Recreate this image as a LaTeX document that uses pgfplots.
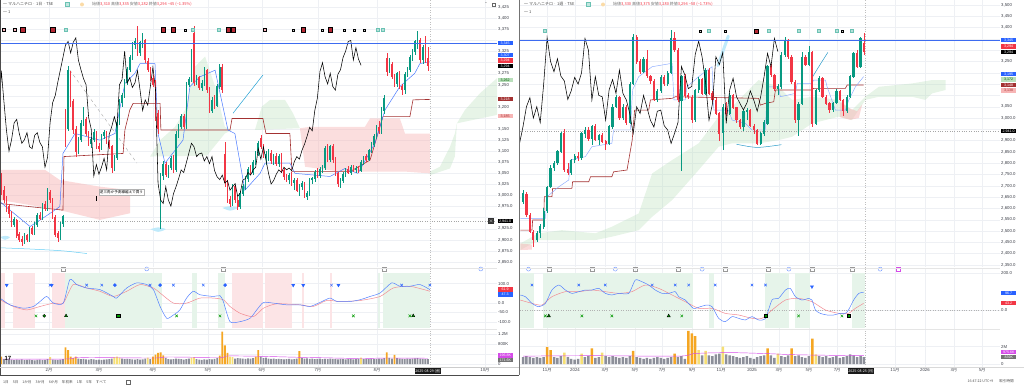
\documentclass[border=0pt]{standalone}
\usepackage{fontspec}
\setmainfont{Liberation Sans}
\newfontfamily\jp{Noto Sans CJK JP}
\newfontfamily\dv{DejaVu Sans}
\usepackage{pgfplots}
\pgfplotsset{compat=1.18}
\usepackage{pgfplotstable}
\definecolor{cg}{HTML}{089981}
\definecolor{cr}{HTML}{F23645}
\definecolor{tvblue}{HTML}{2962FF}
\definecolor{hline}{HTML}{3D6BF0}
\definecolor{kij}{HTML}{A33131}
\definecolor{cloudg}{HTML}{B9DFBB}
\definecolor{cloudr}{HTML}{F7B5B5}
\definecolor{volg}{HTML}{8C8F99}
\definecolor{volo}{HTML}{F5A623}
\definecolor{voly}{HTML}{F6DF74}
\definecolor{bandg}{HTML}{E6F4EA}
\definecolor{bandr}{HTML}{FCE4E6}
\definecolor{oscr}{HTML}{F28B93}
\definecolor{mag}{HTML}{D54BE8}
\definecolor{gridc}{HTML}{EEF0F4}
\definecolor{labc}{HTML}{3A3D46}
\newcommand\tk{\fontsize{4.3}{5}\selectfont}
\newcommand\tg{\fontsize{3.6}{4}\selectfont}
\newcommand\hd{\fontsize{4.0}{5}\selectfont}
\newcommand\ptag[5]{\node[fill=#3, text=#4, font=\tg, inner sep=0.4pt, minimum width=15pt, minimum height=4.6pt, anchor=west] at (#1pt,-#2pt) {#5};}
\pgfplotsset{
 tv/.style={scale only axis, anchor=north west, axis line style={draw=none}, major tick length=0pt,
   tick label style={font=\tk, text=labc}, yticklabel pos=right,
   xmajorgrids, ymajorgrids, major grid style={draw=gridc, line width=0.35pt},
   yticklabel style={anchor=west, inner sep=1pt}, xticklabel style={inner sep=1.2pt},
   /pgf/number format/assume math mode=true},
 upb/.style={forget plot, draw=none, mark=none, error bars/.cd, y dir=both, y explicit, error mark=none},
}
\newcommand\candles[3]{%
 \addplot[upb, error bar style={draw=cg, line width=0.45pt}] table[x=i, y expr={\thisrow{c}>=\thisrow{o} ? (\thisrow{h}+\thisrow{l})/2 : nan}, y error expr={(\thisrow{h}-\thisrow{l})/2}] {#1};
 \addplot[upb, error bar style={draw=cr, line width=0.45pt}] table[x=i, y expr={\thisrow{c}<\thisrow{o} ? (\thisrow{h}+\thisrow{l})/2 : nan}, y error expr={(\thisrow{h}-\thisrow{l})/2}] {#1};
 \addplot[upb, error bar style={draw=cg, line width=#2}] table[x=i, y expr={\thisrow{c}>=\thisrow{o} ? (\thisrow{o}+\thisrow{c})/2 : nan}, y error expr={abs(\thisrow{c}-\thisrow{o})/2+0.8}] {#1};
 \addplot[upb, error bar style={draw=cr, line width=#2}] table[x=i, y expr={\thisrow{c}<\thisrow{o} ? (\thisrow{o}+\thisrow{c})/2 : nan}, y error expr={abs(\thisrow{c}-\thisrow{o})/2+0.8}] {#1};
 \addplot[black, line width=0.55pt] table[x expr=\thisrow{i}-#3, y=c] {#1};
}
\newcommand\vols[2]{%
 \addplot[ybar, bar width=#2, bar shift=0pt, fill=volg, draw=none] table[x=i, y expr={\thisrow{t}==0 ? \thisrow{v} : nan}] {#1};
 \addplot[ybar, bar width=#2, bar shift=0pt, fill=volo, draw=none] table[x=i, y expr={\thisrow{t}==1 ? \thisrow{v} : nan}] {#1};
 \addplot[ybar, bar width=#2, bar shift=0pt, fill=voly, draw=none] table[x=i, y expr={\thisrow{t}==2 ? \thisrow{v} : nan}] {#1};
}
\pgfplotstableread{
i o h l c v t
0 3040 3050 3002 3010 0.30 1
1 3012 3022 2982 2990 0.20 0
2 2992 3000 2962 2972 0.18 0
3 2975 2980 2950 2958 0.17 0
4 2960 2966 2930 2936 0.18 0
5 2934 2952 2928 2946 0.16 0
6 2944 2948 2905 2910 0.18 0
7 2912 2918 2894 2900 0.17 0
8 2902 2908 2886 2895 0.19 0
9 2896 2915 2890 2910 0.16 0
10 2910 2914 2895 2900 0.17 0
11 2900 2930 2896 2926 0.18 0
12 2926 2932 2910 2915 0.16 0
13 2914 2940 2910 2936 0.15 0
14 2934 2960 2930 2956 0.17 0
15 2956 2962 2944 2948 0.18 0
16 2948 2984 2944 2980 0.16 0
17 2980 2988 2964 2970 0.17 0
18 2970 3016 2966 3012 0.20 0
19 3008 3012 2984 2990 0.28 2
20 2990 2994 2946 2950 0.18 0
21 2950 2956 2906 2912 0.17 0
22 2914 2920 2894 2904 0.16 0
23 2904 2940 2900 2936 0.18 0
24 2936 2956 2930 2952 0.20 0
25 3170 3195 3110 3150 0.67 1
26 3150 3292 3146 3282 0.56 1
27 3275 3282 3200 3214 0.30 1
28 3212 3218 3140 3148 0.25 1
29 3150 3158 3088 3100 0.30 1
30 3100 3132 3094 3126 0.22 0
31 3126 3170 3120 3164 0.20 0
32 3164 3200 3156 3172 0.21 0
33 3172 3178 3134 3140 0.19 0
34 3140 3146 3112 3118 0.18 0
35 3118 3132 3108 3126 0.20 0
36 3126 3150 3120 3142 0.19 0
37 3140 3146 3104 3110 0.17 0
38 3110 3118 3098 3106 0.18 0
39 3106 3140 3102 3136 0.17 0
40 3136 3148 3128 3142 0.18 0
41 3142 3146 3116 3120 0.19 0
42 3120 3126 3104 3110 0.20 0
43 3110 3114 3050 3064 0.22 0
44 3064 3092 3056 3086 0.28 2
45 3086 3172 3080 3165 0.30 2
46 3165 3218 3160 3210 0.26 2
47 3210 3232 3200 3226 0.22 0
48 3226 3262 3220 3256 0.20 0
49 3256 3290 3250 3284 0.21 0
50 3284 3318 3278 3312 0.20 0
51 3312 3346 3306 3340 0.19 0
52 3340 3356 3330 3348 0.18 0
53 3360 3382 3316 3322 0.20 0
54 3322 3350 3316 3346 0.18 0
55 3340 3366 3334 3356 0.19 0
56 3350 3354 3300 3306 0.22 0
57 3304 3310 3278 3284 0.26 2
58 3284 3290 3258 3264 0.20 0
59 3264 3272 3244 3250 0.30 1
60 3254 3260 3168 3176 0.38 1
61 3186 3192 3140 3150 0.45 1
62 2952 3050 2925 3044 0.47 1
63 3044 3078 3036 3070 0.35 1
64 3070 3076 3042 3048 0.24 0
65 3048 3070 3040 3064 0.20 0
66 3064 3090 3058 3084 0.19 0
67 3084 3092 3050 3058 0.20 0
68 3058 3145 3052 3138 0.22 0
69 3138 3162 3130 3156 0.21 0
70 3156 3184 3150 3178 0.20 0
71 3178 3184 3150 3156 0.18 0
72 3156 3256 3150 3250 0.20 0
73 3250 3268 3244 3262 0.22 0
74 3262 3330 3256 3326 0.26 2
75 3366 3382 3248 3254 0.28 2
76 3258 3272 3250 3266 0.20 0
77 3266 3270 3238 3244 0.18 0
78 3244 3260 3236 3254 0.17 0
79 3254 3290 3248 3282 0.19 0
80 3282 3286 3232 3238 0.18 0
81 3238 3244 3186 3192 0.20 0
82 3192 3222 3186 3216 0.19 0
83 3216 3226 3196 3204 0.21 0
84 3204 3252 3200 3246 0.24 0
85 3246 3298 3240 3290 0.34 1
86 3290 3296 3232 3240 1.30 1
87 3092 3120 3020 3028 0.75 1
88 3030 3036 2984 2990 0.45 1
89 2992 3000 2974 2982 0.30 2
90 2982 3026 2976 3020 0.28 2
91 3020 3024 2984 2990 0.22 0
92 2990 2996 2968 2976 0.24 0
93 2976 3010 2970 3004 0.23 0
94 3004 3026 2998 3020 0.22 0
95 3020 3044 3012 3038 0.21 0
96 3038 3064 3030 3058 0.23 0
97 3058 3068 3046 3052 0.22 0
98 3052 3080 3046 3074 0.24 0
99 3074 3100 3068 3096 0.30 1
100 3096 3124 3090 3118 0.56 1
101 3130 3136 3104 3110 0.30 0
102 3110 3116 3084 3088 0.24 0
103 3088 3100 3070 3094 0.26 0
104 3094 3104 3078 3096 0.22 0
105 3096 3102 3072 3078 0.21 0
106 3078 3094 3070 3088 0.22 0
107 3088 3096 3066 3072 0.20 0
108 3072 3094 3064 3088 0.21 0
109 3088 3096 3050 3056 0.20 0
110 3056 3062 3036 3042 0.19 0
111 3042 3048 3030 3036 0.20 0
112 3036 3050 3026 3046 0.21 0
113 3046 3052 3022 3028 0.19 0
114 3028 3040 3012 3034 0.20 0
115 3034 3040 3008 3012 0.22 0
116 3012 3026 3000 3020 0.52 1
117 3020 3032 3012 3027 0.24 0
118 3027 3030 2994 2998 0.22 0
119 2998 3010 2990 3006 0.23 0
120 3006 3040 3000 3035 0.21 0
121 3035 3042 3026 3038 0.22 0
122 3038 3058 3030 3052 0.20 0
123 3052 3062 3040 3046 0.21 0
124 3046 3064 3040 3058 0.22 0
125 3058 3070 3050 3064 0.20 0
126 3064 3112 3058 3106 0.21 0
127 3106 3116 3076 3082 0.20 0
128 3082 3114 3076 3110 0.22 0
129 3110 3116 3074 3080 0.21 0
130 3080 3086 3044 3050 0.20 0
131 3050 3054 3020 3026 0.19 0
132 3026 3040 3018 3034 0.21 0
133 3034 3052 3028 3048 0.20 0
134 3048 3062 3042 3058 0.19 0
135 3058 3066 3048 3052 0.20 0
136 3052 3068 3046 3064 0.21 0
137 3064 3070 3052 3058 0.19 0
138 3058 3066 3050 3062 0.20 0
139 3062 3066 3050 3056 0.22 0
140 3056 3080 3052 3076 0.26 2
141 3076 3090 3070 3088 0.20 0
142 3088 3094 3076 3082 0.21 0
143 3082 3106 3078 3102 0.20 0
144 3102 3120 3096 3116 0.22 0
145 3116 3140 3110 3134 0.21 0
146 3134 3160 3128 3154 0.20 0
147 3154 3168 3140 3146 0.22 0
148 3146 3200 3140 3192 0.21 0
149 3192 3226 3184 3220 0.24 0
150 3310 3322 3270 3280 0.47 1
151 3282 3310 3276 3300 0.25 0
152 3296 3302 3262 3268 0.22 0
153 3268 3274 3244 3252 0.37 1
154 3252 3280 3246 3276 0.24 0
155 3276 3282 3240 3246 0.22 0
156 3246 3252 3228 3238 0.21 0
157 3238 3280 3230 3274 0.20 0
158 3274 3290 3268 3284 0.22 0
159 3284 3318 3278 3312 0.21 0
160 3312 3330 3304 3326 0.22 0
161 3326 3352 3318 3348 0.23 0
162 3338 3372 3330 3350 0.24 0
163 3350 3356 3300 3306 0.22 0
164 3306 3340 3298 3334 0.21 0
165 3334 3360 3300 3308 0.20 0
166 3310 3335 3282 3294 0.20 0
}\candL
\pgfplotstableread{
i o h l c v t
0 2630 2680 2620 2667 0.8 0
1 2665 2672 2560 2570 0.9 0
2 2570 2580 2490 2495 0.8 0
3 2495 2505 2430 2462 0.7 0
4 2462 2500 2450 2490 0.8 0
5 2490 2530 2470 2520 0.7 0
6 2520 2600 2510 2590 0.8 0
7 2590 2700 2580 2696 1.94 1
8 2696 2790 2690 2780 1.6 1
9 2780 2812 2766 2800 0.8 0
10 2800 2860 2790 2852 0.7 0
11 2852 2940 2846 2932 0.9 0
12 2932 2950 2762 2772 1.3 2
13 2772 2800 2750 2758 0.8 0
14 2758 2820 2750 2814 0.6 0
15 2814 2840 2800 2830 0.5 0
16 2830 2850 2810 2822 0.6 0
17 2822 2940 2816 2932 1.2 2
18 2932 2960 2910 2946 0.8 0
19 2946 2962 2900 2910 0.9 0
20 2910 2970 2880 2962 1.8 1
21 2962 2972 2898 2904 0.7 0
22 2904 2930 2880 2924 0.8 0
23 2924 2934 2890 2896 1.3 2
24 2896 2904 2860 2888 0.9 0
25 2888 2970 2880 2962 0.8 0
26 2962 3060 2950 3050 0.9 0
27 3050 3100 3044 3090 0.8 0
28 3090 3096 2990 3000 0.7 0
29 3000 3060 2990 3050 0.8 0
30 3050 3058 2970 2980 0.7 0
31 2980 3160 2975 3150 0.9 0
32 3150 3372 3145 3356 1.5 1
33 3356 3366 3240 3250 0.8 0
34 3250 3262 3196 3205 0.7 0
35 3205 3270 3198 3262 0.6 0
36 3262 3300 3176 3185 0.7 0
37 3185 3192 3150 3164 0.6 0
38 3164 3172 3076 3082 0.7 0
39 3082 3130 3070 3120 0.8 0
40 3120 3190 3110 3180 0.7 0
41 3180 3192 3140 3150 0.6 0
42 3150 3210 3140 3200 0.7 0
43 3200 3390 3195 3352 0.8 0
44 3352 3380 3290 3300 1.2 1
45 3300 3310 3070 3080 0.8 0
46 3075 3190 2765 3183 0.9 0
47 3183 3196 3090 3100 0.6 0
48 3100 3110 3084 3094 3.8 1
49 3094 3100 2980 2991 3.5 1
50 2991 3130 2984 3124 3.2 1
51 3124 3180 3110 3170 1.6 2
52 3170 3176 3100 3109 1.0 0
53 3109 3220 3100 3212 1.5 2
54 3212 3220 3100 3109 1.0 0
55 3109 3120 3070 3080 0.9 0
56 3080 3090 3014 3020 1.1 0
57 3020 3026 2900 2932 1.2 0
58 2935 3060 2858 3050 2.0 2
59 3050 3070 3010 3020 1.1 0
60 3020 3110 3012 3100 1.0 0
61 3100 3106 3040 3046 0.9 0
62 3046 3050 2980 2990 0.8 0
63 2990 2996 2950 2960 0.7 0
64 2960 3040 2944 3030 0.8 0
65 3030 3045 2990 3035 0.9 0
66 3035 3040 2960 2966 0.7 0
67 2966 2972 2930 2947 0.6 0
68 2947 2952 2880 2888 0.8 0
69 2888 2940 2880 2932 0.9 0
70 2932 2990 2920 2980 1.0 0
71 2976 3236 2968 3228 1.8 1
72 3228 3240 3180 3190 1.0 0
73 3190 3196 3120 3130 0.7 0
74 3130 3150 3100 3140 1.2 2
75 3140 3290 3130 3280 0.9 0
76 3280 3360 3270 3340 0.8 0
77 3340 3350 3262 3270 1.0 0
78 3270 3280 3150 3160 1.8 1
79 3160 3166 2980 2990 0.9 0
80 2990 3070 2920 3062 1.0 0
81 3062 3290 3056 3271 0.8 0
82 3271 3280 3230 3236 0.7 0
83 3236 3320 3230 3290 0.9 0
84 3290 3296 2960 2976 2.9 1
85 2976 3130 2968 3124 1.1 2
86 3124 3186 3116 3176 0.9 0
87 3176 3182 3088 3094 0.8 0
88 3094 3100 3058 3064 0.9 0
89 3064 3070 3020 3036 0.7 0
90 3036 3072 3028 3066 0.8 0
91 3066 3128 3060 3120 0.9 0
92 3120 3126 3074 3080 0.7 0
93 3080 3086 3010 3030 0.8 0
94 3030 3100 3024 3094 0.9 0
95 3094 3190 3088 3183 1.1 0
96 3183 3292 3176 3286 1.0 0
97 3286 3300 3220 3227 0.8 0
98 3227 3360 3220 3352 0.9 0
99 3330 3375 3280 3294 0.8 0
}\candR
\begin{document}
\begin{tikzpicture}
\useasboundingbox (0,0) rectangle (1024pt,-385pt);
% ================= LEFT PRICE =================
\begin{axis}[tv, at={(0pt,0pt)}, width=497pt, height=267pt,
  xmin=-0.5, xmax=192.9, ymin=2838.6, ymax=3441.5,
  xtick={18.6,38,59,80.4,101.4,123.2,146.2,188.2}, xticklabels={},
  ytick={2850,2875,...,3425},
  yticklabels={{2,850.0},{2,875.0},{2,900.0},{2,925.0},{},{2,975.0},{3,000.0},{3,025},{3,050},{3,075},{3,100},{3,125},{3,150},{},{3,200},{},{3,250},{3,275},{},{3,325},{},{3,375},{3,400},{3,425}}]
\addplot[fill=cloudr, fill opacity=0.5, draw=none] coordinates {(-0.5,3058) (17,3058) (22.8,3035) (38.4,3020) (50.1,3012) (50.1,2960) (38.4,2945) (22.8,2967) (-0.5,2990)};
\addplot[fill=cloudg, fill opacity=0.35, draw=none] coordinates {(57.9,3088) (61.8,3125) (67.6,3155) (71.5,3193) (75.4,3291) (79.3,3314) (83.2,3246) (87,3155) (89.8,3148) (87,3140) (80,3090) (57.9,3088)};
\addplot[fill=cloudg, fill opacity=0.35, draw=none] coordinates {(98.7,3148) (101.4,3201) (104.6,3216) (110.4,3216) (113.5,3186) (116.2,3152) (98.7,3148)};
\addplot[fill=cloudr, fill opacity=0.45, draw=none] coordinates {(116.2,3152) (120.1,3155) (141.5,3155) (143.5,3174) (155.1,3174) (157.1,3140) (166.8,3140) (166.8,3050) (157.1,3054) (131.8,3054) (118.2,3065)};
\addplot[fill=cloudg, fill opacity=0.35, draw=none] coordinates {(166.8,3054) (170.7,3065) (174.6,3110) (176.5,3140) (177.3,3163) (180.4,3193) (186.3,3231) (192.9,3265) (192.9,3182) (177.3,3163) (176.5,3088) (174.6,3061) (166.8,3046)};
\addplot[gray!70, dotted, line width=0.4pt] coordinates {(-0.5,2941) (192.9,2941)};
\addplot[gray!50, dotted, line width=0.4pt] coordinates {(166.8,2838.6) (166.8,3441.5)};
\addplot[gray!70, dashed, line width=0.4pt] coordinates {(26.7,3283) (52.8,3073)};
\addplot[cyan!70!teal, line width=0.5pt] coordinates {(90.2,3186) (101.8,3272)};
\addplot[cyan!60, line width=0.5pt, smooth] coordinates {(-0.5,2882) (12,2879) (24,2875) (33.3,2869)};
\addplot[fill=cyan!25, draw=none, smooth] coordinates {(58,2924) (61,2928) (64,2924) (61,2918) (58,2924)};
\addplot[fill=cyan!25, draw=none, smooth] coordinates {(86,2972) (89,2976) (92,2972) (89,2966) (86,2972)};
\addplot[fill=cyan!25, draw=none, smooth] coordinates {(-0.5,2906) (1.5,2909) (3.4,2906) (1.5,2900) (-0.5,2906)};
\addplot[kij, line width=0.6pt] coordinates {(-0.5,2982) (24,2967) (24.4,3088) (47.4,3095) (48.1,3148) (50,3193) (51.3,3208) (61.8,3208) (62.1,3148) (89,3148) (89.8,3174) (101.8,3174) (103,3140) (112.3,3140) (113.1,3054) (135.7,3054) (143.5,3080) (148.5,3178) (159,3178) (160.2,3216) (166.8,3217)};
\addplot[tvblue!85, line width=0.5pt] coordinates {(-0.5,2986) (3.4,2967) (11.2,2930) (17,2952) (22.8,2975) (24,3095) (28.7,3140) (38.4,3125) (44.2,3140) (48.1,3253) (52,3276) (54,3298) (59.8,3298) (61,3140) (63.7,3073) (70.7,3125) (73.4,3246) (77.3,3268) (83.2,3283) (88.2,3148) (90.9,3140) (94.8,3012) (100.7,3050) (102.6,3073) (112.3,3073) (114.3,3050) (127.9,3043) (133.7,3061) (138.8,3050) (145.4,3118) (149.3,3193) (155.1,3246) (160.9,3276) (162.9,3298) (166.8,3302)};
\candles{\candL}{1.6pt}{26}
\addplot[only marks, mark=square*, mark size=2.2pt, mark options={fill=cr!75!black, draw=none}] coordinates {(8.4,3374) (20,3374) (63,3374) (67,3374) (88.2,3374) (90.2,3374) (117.4,3374) (127.9,3374)};
\addplot[only marks, mark=square*, mark size=1.4pt, mark options={fill=cr!35, draw=none}] coordinates {(1,3374) (5.3,3374) (102.6,3374)};
\addplot[only marks, mark=square*, mark size=1.5pt, mark options={fill=cg!30, draw=cg!60}] coordinates {(25,3374) (74.6,3374) (84.7,3374) (146.6,3374) (148.5,3374)};
\addplot[only marks, mark=square*, mark size=1.1pt, mark options={fill=gray!35, draw=none}] coordinates {(71.5,3374) (113.6,3374) (124.8,3374) (133.5,3374) (137.3,3374) (141.3,3374)};
\end{axis}
\draw[draw=hline, line width=0.9pt] (0.6pt,-43.2pt) -- (497pt,-43.2pt);
% ================= LEFT OSC =================
\begin{axis}[tv, at={(0pt,-268pt)}, width=497pt, height=61pt,
  xmin=-0.5, xmax=192.9, ymin=-136.2, ymax=181,
  xtick={18.6,38,59,80.4,101.4,123.2,146.2,188.2}, xticklabels={},
  ytick={-100,-50,0,100}, yticklabels={{-100.0},{-50.0},{0.0},{100.0}}]
\addplot[fill=bandr, draw=none] coordinates {(-0.5,-131) (-0.5,155) (1.4,155) (1.4,-131)};
\addplot[fill=bandr, draw=none] coordinates {(4.7,-131) (4.7,155) (13.1,155) (13.1,-131)};
\addplot[fill=bandr, draw=none] coordinates {(19.6,-131) (19.6,155) (24.8,155) (24.8,-131)};
\addplot[fill=bandr, draw=none] coordinates {(89.6,-131) (89.6,155) (102,155) (102,-131)};
\addplot[fill=bandr, draw=none] coordinates {(102.6,-131) (102.6,155) (113,155) (113,-131)};
\addplot[fill=bandr, draw=none] coordinates {(116.9,-131) (116.9,155) (117.8,155) (117.8,-131)};
\addplot[fill=bandr, draw=none] coordinates {(127.9,-131) (127.9,155) (128.5,155) (128.5,-131)};
\addplot[fill=bandg, draw=none] coordinates {(24.8,-131) (24.8,155) (62.4,155) (62.4,-131)};
\addplot[fill=bandg, draw=none] coordinates {(74.1,-131) (74.1,155) (76,155) (76,-131)};
\addplot[fill=bandg, draw=none] coordinates {(84.5,-131) (84.5,155) (87.1,155) (87.1,-131)};
\addplot[fill=bandg, draw=none] coordinates {(146.7,-131) (146.7,155) (147.4,155) (147.4,-131)};
\addplot[fill=bandg, draw=none] coordinates {(148.7,-131) (148.7,155) (166.8,155) (166.8,-131)};
\addplot[gray!50, dotted, line width=0.4pt] coordinates {(166.8,-136.2) (166.8,181)};
\addplot[oscr, line width=0.5pt, smooth, tension=0.4] coordinates {(-0.5,16) (4.7,-19) (9.9,-37) (15.1,-19) (20.3,-1.7) (24.1,-1.7) (28,95) (33.2,77) (38.4,60) (43.6,33) (48.8,60) (54,95) (59.2,77) (61.8,51) (67,-1.7) (72.1,-1.7) (77.3,24.6) (82.5,24.6) (86.4,16) (89,-19) (92.9,-54) (98.1,-72) (102,-28) (107.2,-5) (116.2,-10.5) (121.4,-19) (126.6,12) (131.8,7) (139.6,12) (147.4,33) (152.5,77) (159,86) (166.8,60)};
\addplot[tvblue!80, line width=0.5pt, smooth, tension=0.4] coordinates {(-0.5,24.6) (3.4,-10.5) (8.6,-28) (12.5,-19) (15.1,7) (17.7,33) (20.3,-1.7) (24.1,-1.7) (26.7,121) (29.3,95) (33.2,77) (38.4,68.5) (43.6,33) (44.9,24.6) (48.8,77) (52.7,103.5) (56.6,95) (59.2,68.5) (61.8,-19) (64.4,-80.6) (67,-63) (69.5,-37) (72.1,24.6) (74.7,60) (77.3,42) (82.5,33) (85.1,37) (86.4,7) (89,-98) (92.9,-98) (96.8,-80.6) (99.4,-37) (102,1.8) (105.9,-1.7) (111,-10.5) (116.2,-10.5) (120.1,-19) (124,1.8) (127.9,24.6) (130.5,7) (135.7,7) (139.6,16) (143.5,33) (147.4,51) (151.9,103.5) (155.1,86) (159,86) (162.9,95) (166.8,68.5)};
\addplot[only marks, mark=triangle*, mark size=1.8pt, mark options={rotate=180, fill=tvblue, draw=tvblue}] coordinates {(2.1,92) (19.6,92) (113.6,92) (117.5,92) (131.2,92)};
\addplot[only marks, mark=x, mark size=1.8pt, mark options={draw=tvblue, line width=0.5pt}] coordinates {(19,92) (33.2,92) (39.1,92) (57.9,92) (67,92) (78.6,92) (128.5,92) (155.8,92) (166.8,92)};
\addplot[only marks, mark=*, mark size=1.6pt, mark options={fill=tvblue, draw=tvblue}] coordinates {(44.2,92) (61.8,92) (87.1,92)};
\addplot[only marks, mark=x, mark size=1.8pt, mark options={draw=green!60!black, line width=0.5pt}] coordinates {(13.5,-68) (68.2,-68) (85.1,-68) (137,-68) (159,-68)};
\addplot[only marks, mark=*, mark size=1.5pt, mark options={fill=green!60!black, draw=none}] coordinates {(16.7,-68)};
\addplot[only marks, mark=triangle*, mark size=1.8pt, mark options={fill=green!60!black, draw=none}] coordinates {(25.2,-68) (160.3,-68)};
\addplot[only marks, mark=square*, mark size=1.6pt, mark options={fill=green!60!black, draw=none}] coordinates {(45.5,-68)};
\addplot[only marks, mark=square, mark size=2pt, mark options={draw=gray!80, fill=white, line width=0.4pt}] coordinates {(24,176) (86.2,176) (149,176)};
\addplot[only marks, mark=*, mark size=2pt, mark options={draw=tvblue!70, fill=white, line width=0.4pt}] coordinates {(56.6,176) (186.6,176)};
\end{axis}
% ================= LEFT VOLUME =================
\begin{axis}[tv, at={(0pt,-330pt)}, width=497pt, height=37pt,
  xmin=-0.5, xmax=192.9, ymin=-0.12, ymax=1.36,
  xtick={18.6,38,59,80.4,101.4,123.2,146.2,188.2},
  xticklabels={{\jp 2月},{\jp 3月},{\jp 4月},{\jp 5月},{\jp 6月},{\jp 7月},{\jp 8月},{\jp 10月}},
  ytick={0,0.4,0.8,1.2}, yticklabels={0,{},800K,1.2M}]
\addplot[gray!50, dotted, line width=0.4pt] coordinates {(166.8,-0.12) (166.8,1.36)};
\vols{\candL}{1.8pt}
\addplot[mag, line width=0.45pt, smooth] coordinates {(0,0.2) (25,0.2) (30,0.26) (45,0.25) (60,0.24) (65,0.28) (85,0.26) (88,0.32) (100,0.31) (115,0.27) (125,0.25) (140,0.22) (150,0.24) (166,0.23)};
\end{axis}
% ================= RIGHT PRICE =================
\begin{axis}[tv, at={(520pt,0pt)}, width=480pt, height=267pt,
  xmin=-0.87, xmax=138.5, ymin=2341, ymax=3522,
  xtick={7,15.1,23.8,32.5,40.4,49.1,57.5,66.5,74.3,83,91.2,108,116.7,125.1,133.3}, xticklabels={},
  ytick={2350,2400,...,3500},
  yticklabels={{2,350.0},{2,400.0},{2,450.0},{2,500.0},{2,550.0},{2,600.0},{2,650.0},{2,700.0},{2,750.0},{2,800.0},{2,850.0},{2,900.0},{},{3,000.0},{3,050},{},{},{},{3,250},{},{},{3,400},{3,450},{3,500}}]
\addplot[fill=cloudg, fill opacity=0.35, draw=none] coordinates {(-0.8,2445) (4.5,2490) (11.3,2504) (21,2490) (25.8,2519) (33.6,2578) (37.5,2755) (43.3,2814) (51,2888) (56.8,3006) (60.7,3050) (68.4,3168) (74.2,3138) (78.1,3080) (83.9,3094) (91.7,3080) (95.5,3035) (99.4,3094) (103.3,3138) (113,3153) (118.8,3168) (122.7,3168) (122.7,3124) (118.8,3109) (116.8,3080) (113,3094) (103.3,3094) (99.4,3080) (95.5,2991) (91.7,3006) (83.9,2976) (78.1,2917) (74.2,2902) (68.4,2888) (60.7,2888) (56.8,2873) (51,2770) (43.3,2637) (37.5,2563) (33.6,2504) (25.8,2475) (21,2460) (11.3,2460) (4.5,2460) (-0.8,2416)};
\addplot[fill=cloudr, fill opacity=0.5, draw=none] coordinates {(-0.8,2445) (2.6,2440) (2.6,2418) (-0.8,2416)};
\addplot[fill=cloudr, fill opacity=0.5, draw=none] coordinates {(92,3070) (94.5,3045) (97,3030) (98.5,3060) (97.5,3000) (95,2992) (92,3004)};
\addplot[gray!70, dotted, line width=0.4pt] coordinates {(-0.87,2941) (138.5,2941)};
\addplot[gray!50, dotted, line width=0.4pt] coordinates {(99.3,2341) (99.3,3522)};
\addplot[cyan!25, line width=3pt, line cap=round] coordinates {(56.6,3232) (59.6,3362)};
\addplot[cyan!60!teal, line width=0.5pt, smooth] coordinates {(62,2884) (68,2870) (75,2882)};
\addplot[cyan!60!teal, line width=0.5pt, smooth] coordinates {(84,3180) (86,3230) (88.5,3290)};
\addplot[kij, line width=0.6pt] coordinates {(-0.8,2504) (2.6,2504) (2.8,2549) (6,2549) (6.2,2652) (8.4,2652) (8.6,2689) (14.2,2689) (14.4,2718) (19.1,2718) (19.6,2740) (25.8,2740) (26.3,2762) (30.2,2770) (30.7,2814) (31.7,2902) (32.4,3035) (36.5,3035) (37,3080) (43.3,3087) (44.2,3094) (68.4,3087) (68.9,3057) (70.4,3065) (72.8,3072) (73.3,3124) (83.9,3124) (84.4,3131) (93.6,3131) (94.1,3146) (98.9,3146)};
\addplot[tvblue!55, line width=0.45pt] coordinates {(-0.8,2556) (6.5,2556) (7,2652) (10.4,2696) (13.3,2726) (13.7,2814) (18.1,2829) (20,2873) (25.8,2888) (26.3,2947) (31.2,2947) (31.8,3124) (33.6,3183) (37.5,3227) (43.3,3242) (43.8,3080) (47.1,3080) (47.6,3138) (51,3183) (54.9,3227) (55.4,3035) (59.7,3035) (60.7,2991) (64.6,2976) (66.5,2947) (70.4,2947) (70.9,3138) (74.2,3138) (74.7,3094) (79.1,3109) (79.6,3153) (83.9,3153) (84.4,3168) (87.8,3168) (88.3,3138) (90.7,3035) (93.6,3035) (94.6,3080) (96.5,3138) (98.9,3183)};
\candles{\candR}{2.3pt}{25}
\addplot[draw=hline, line width=0.9pt] coordinates {(-0.87,3342) (138.5,3342)};
\addplot[only marks, mark=square*, mark size=1.5pt, mark options={fill=cg!30, draw=cg!60}] coordinates {(6.4,3385) (53.9,3385) (71.3,3385) (80,3385) (85.9,3385) (91.2,3385) (95.5,3385)};
\addplot[only marks, mark=square*, mark size=2.2pt, mark options={fill=cr!75!black, draw=none}] coordinates {(67.7,3385)};
\addplot[only marks, mark=square*, mark size=1.1pt, mark options={fill=gray!35, draw=none}] coordinates {(51.4,3385) (58.7,3385) (92.6,3385)};
\end{axis}
% ================= RIGHT OSC =================
\begin{axis}[tv, at={(520pt,-268pt)}, width=480pt, height=61pt,
  xmin=-0.87, xmax=138.5, ymin=-102.7, ymax=227,
  xtick={7,15.1,23.8,32.5,40.4,49.1,57.5,66.5,74.3,83,91.2,108,116.7,125.1,133.3}, xticklabels={},
  ytick={0,200}, yticklabels={{0.0},{200.0}}]
\addplot[fill=bandg, draw=none] coordinates {(-0.8,-99) (-0.8,198) (3.1,198) (3.1,-99)};
\addplot[fill=bandg, draw=none] coordinates {(5.9,-99) (5.9,198) (49.5,198) (49.5,-99)};
\addplot[fill=bandg, draw=none] coordinates {(53.9,-99) (53.9,198) (55.4,198) (55.4,-99)};
\addplot[fill=bandg, draw=none] coordinates {(70.4,-99) (70.4,198) (77.1,198) (77.1,-99)};
\addplot[fill=bandg, draw=none] coordinates {(79.1,-99) (79.1,198) (83.4,198) (83.4,-99)};
\addplot[fill=bandg, draw=none] coordinates {(95.5,-99) (95.5,198) (99.3,198) (99.3,-99)};
\addplot[gray!60, dotted, line width=0.4pt] coordinates {(-0.87,0) (138.5,0)};
\addplot[gray!50, dotted, line width=0.4pt] coordinates {(99.3,-102.7) (99.3,227)};
\addplot[oscr, line width=0.5pt, smooth, tension=0.4] coordinates {(-0.8,54) (2.6,36) (5.5,27) (8.4,72) (12.3,99) (16.2,99) (20,108) (23.9,99) (27.8,90) (31.6,99) (35.5,135) (39.4,117) (43.3,81) (47.1,45) (51,9) (54.9,9) (58.7,-18) (62.6,-27) (66.5,-45) (69.4,-45) (72.3,0) (76.2,54) (80,63) (83.9,45) (87.8,0) (91.7,-18) (94.5,-18) (96.5,9) (98.9,36)};
\addplot[tvblue!80, line width=0.5pt, smooth, tension=0.4] coordinates {(-0.8,81) (0.7,72) (2.6,36) (4.5,18) (6.5,36) (8.4,108) (10.4,135) (12.3,108) (14.2,90) (16.2,99) (18.1,108) (20,108) (22,117) (23.9,90) (25.8,81) (27.8,90) (30.7,90) (32.6,162) (34.5,153) (36.5,135) (38.4,108) (40.4,90) (42.3,90) (44.2,99) (45.2,72) (47.1,54) (49.5,9) (51.5,18) (53.4,27) (54.9,18) (56.8,-45) (58.7,-63) (60.7,-36) (62.6,-45) (64.5,-54) (66.5,-36) (68.4,-54) (70.4,-45) (72.3,54) (74.2,63) (76.2,108) (77.6,117) (79.1,72) (81,54) (83,63) (83.9,54) (84.9,0) (86.3,-18) (88.3,-27) (90.2,-27) (92.1,-18) (93.6,-18) (94.5,0) (96,54) (97.5,90) (98.9,96)};
\addplot[only marks, mark=x, mark size=1.8pt, mark options={draw=tvblue, line width=0.5pt}] coordinates {(2.6,135) (16.2,135) (23.9,135) (37.5,135) (44.2,135) (48.1,135) (55.8,135) (66.5,135) (70.4,135)};
\addplot[only marks, mark=triangle*, mark size=1.8pt, mark options={rotate=180, fill=tvblue, draw=tvblue}] coordinates {(83.9,126)};
\addplot[only marks, mark=x, mark size=1.8pt, mark options={draw=green!60!black, line width=0.5pt}] coordinates {(6.5,-32) (17.1,-32) (25.8,-32) (46.1,-32) (80,-32) (92.6,-32)};
\addplot[only marks, mark=triangle*, mark size=1.8pt, mark options={fill=green!60!black, draw=none}] coordinates {(7.5,-32) (42.3,-32)};
\addplot[only marks, mark=square*, mark size=1.6pt, mark options={fill=green!60!black, draw=none}] coordinates {(70.4,-32) (94.5,-32)};
\addplot[only marks, mark=square, mark size=2pt, mark options={draw=gray!80, fill=white, line width=0.4pt}] coordinates {(7.5,221) (20,221) (32.6,221) (45.2,221) (58.7,221) (71.3,221) (83.9,221) (95.5,221)};
\addplot[only marks, mark=square, mark size=2pt, mark options={draw=mag, fill=white, line width=0.4pt}] coordinates {(109,221)};
\addplot[only marks, mark=*, mark size=2pt, mark options={draw=tvblue!70, fill=white, line width=0.4pt}] coordinates {(1.6,221) (26.8,221) (52,221) (77.2,221) (103.7,221)};
\end{axis}
% ================= RIGHT VOLUME =================
\begin{axis}[tv, at={(520pt,-330pt)}, width=480pt, height=37pt,
  xmin=-0.87, xmax=138.5, ymin=-0.343, ymax=3.886,
  xtick={7,15.1,23.8,32.5,40.4,49.1,57.5,66.5,74.3,83,91.2,108,116.7,125.1,133.3},
  xticklabels={{\jp 11月},2024,{\jp 3月},{\jp 5月},{\jp 7月},{\jp 9月},{\jp 11月},2025,{\jp 3月},{\jp 5月},{\jp 7月},{\jp 11月},2026,{\jp 3月},{\jp 5月}},
  ytick={0,2,4}, yticklabels={0,2M,4M}]
\addplot[gray!50, dotted, line width=0.4pt] coordinates {(99.3,-0.343) (99.3,3.886)};
\vols{\candR}{2.5pt}
\addplot[mag, line width=0.45pt, smooth] coordinates {(0,0.9) (20,0.95) (45,0.9) (50,1.2) (60,1.3) (70,1.2) (80,1.05) (99,0.95)};
\end{axis}
% ================= frames, tags, texts =================
\draw[gray!20, line width=0.4pt] (0,-268pt) -- (497pt,-268pt);
\draw[gray!20, line width=0.4pt] (0,-329.5pt) -- (497pt,-329.5pt);
\draw[gray!20, line width=0.4pt] (520pt,-268pt) -- (1000pt,-268pt);
\draw[gray!20, line width=0.4pt] (520pt,-329.5pt) -- (1000pt,-329.5pt);
\draw[gray!30, line width=0.4pt] (520pt,-367pt) -- (1024pt,-367pt);
\draw[black!70, line width=0.6pt] (0.3pt,0) -- (0.3pt,-375pt) -- (519pt,-375pt);
\draw[black!55, line width=1pt] (519pt,0) -- (519pt,-375pt);
\draw[gray!40, line width=0.4pt] (0,-367pt) -- (519pt,-367pt);
% left tags
\ptag{497.5}{43}{tvblue}{white}{3,345}
\ptag{497.5}{55}{tvblue}{white}{3,307}
\ptag{497.5}{60.5}{cr}{white}{3,294}
\ptag{497.5}{66}{black}{white}{3,294}
\ptag{497.5}{80}{cloudg}{green!35!black}{3,262}
\ptag{497.5}{99}{kij}{white}{3,218}
\ptag{497.5}{116}{cloudr}{kij}{3,185}
\ptag{497.5}{221}{black}{white}{2,941.0}
\node[fill=black!80, text=white, font=\tg, inner sep=0.5pt, minimum size=4.6pt] at (491pt,-221pt) {$\times$};
\ptag{497.5}{289.5}{cr}{white}{61.9}
\ptag{497.5}{294.5}{tvblue}{white}{47.3}
\ptag{497.5}{355.5}{mag}{white}{196.8K}
\ptag{497.5}{360}{black!55}{white}{171.6K}
% right tags
\ptag{1001}{40}{tvblue}{white}{3,345}
\ptag{1001}{46.5}{cr}{white}{3,294}
\ptag{1001}{52}{black}{white}{3,294}
\ptag{1001}{74}{tvblue}{white}{3,195}
\ptag{1001}{79.5}{cloudg}{green!35!black}{3,172}
\ptag{1001}{85}{kij}{white}{3,148}
\ptag{1001}{90.5}{cloudr}{kij}{3,138}
\ptag{1001}{131}{black}{white}{2,941.0}
\ptag{1001}{293}{tvblue}{white}{96.7}
\ptag{1001}{303}{cr}{white}{43.2}
\ptag{1001}{352}{mag}{white}{975.6K}
\ptag{1001}{357}{black!55}{white}{839K}
% date tags
\node[fill=black!90, text=white, font=\tg, inner sep=0.8pt] at (428pt,-371pt) {\jp 2025-08-29 (金)};
\node[fill=black!90, text=white, font=\tg, inner sep=0.8pt] at (861pt,-371pt) {\jp 2025-08-25 (月)};
% headers
\node[anchor=west, font=\hd, text=black!70, inner sep=0] at (3pt,-4.5pt) {\jp 〜 マルハニチロ · 1日 · TSE};
\node[fill=cg!25, draw=cg!60, minimum size=4pt, inner sep=0, line width=0.3pt] at (67pt,-4.5pt) {};
\node[fill=volo!40, circle, minimum size=4pt, inner sep=0] at (82pt,-4.5pt) {};
\node[anchor=west, font=\hd, inner sep=0] at (92pt,-4.5pt) {\jp\textcolor{black!55}{始値}\textcolor{cr}{3,310} \textcolor{black!55}{高値}\textcolor{cr}{3,335} \textcolor{black!55}{安値}\textcolor{cr}{3,282} \textcolor{black!55}{終値}\textcolor{cr}{3,294 −45 (−1.35\%)}};
\node[anchor=west, font=\hd, text=black!70, inner sep=0] at (3pt,-12pt) {\jp 〜 1};
\node[anchor=west, font=\hd, text=black!70, inner sep=0] at (524pt,-4.5pt) {\jp 〜 マルハニチロ · 1週 · TSE};
\node[fill=cg!25, draw=cg!60, minimum size=4pt, inner sep=0, line width=0.3pt] at (588pt,-4.5pt) {};
\node[fill=volo!40, circle, minimum size=4pt, inner sep=0] at (603pt,-4.5pt) {};
\node[anchor=west, font=\hd, inner sep=0] at (613pt,-4.5pt) {\jp\textcolor{black!55}{始値}\textcolor{cr}{3,330} \textcolor{black!55}{高値}\textcolor{cr}{3,375} \textcolor{black!55}{安値}\textcolor{cr}{3,280} \textcolor{black!55}{終値}\textcolor{cr}{3,294 −58 (−1.73\%)}};
\node[anchor=west, font=\hd, text=black!70, inner sep=0] at (524pt,-12pt) {\jp 〜 1};
\node[font=\hd, text=black!60] at (486pt,-4.5pt) {\dv ⌃};
\node[draw=black!60, minimum size=3pt, inner sep=0, line width=0.3pt] at (494pt,-4.5pt) {};
% note box
\node[draw=gray!60, fill=white, font=\tg, inner sep=1pt, line width=0.3pt] at (121.5pt,-192pt) {\jp 逆三角か予測線越えで買う};
\draw[black, line width=1pt] (96pt,-196pt) -- (96pt,-201pt);
% TV logo
\node[font=\fontsize{6}{6}\selectfont\bfseries, text=black, inner sep=0] at (8pt,-358pt) {17};
% bottom toolbar
\node[anchor=west, font=\tg, text=black!70, inner sep=0] at (3pt,-382pt) {\jp 1日\hspace{4pt}5日\hspace{4pt}1か月\hspace{4pt}3か月\hspace{4pt}6か月\hspace{4pt}年初来\hspace{4pt}1年\hspace{4pt}5年\hspace{4pt}すべて};
\draw[black!60, line width=0.3pt] (126pt,-380pt) rectangle (130pt,-384pt);
\node[anchor=east, font=\tg, text=black!70, inner sep=0] at (1014pt,-381pt) {\jp 16:47:22 UTC+9\hspace{6pt}取引時間};
\end{tikzpicture}
\end{document}
